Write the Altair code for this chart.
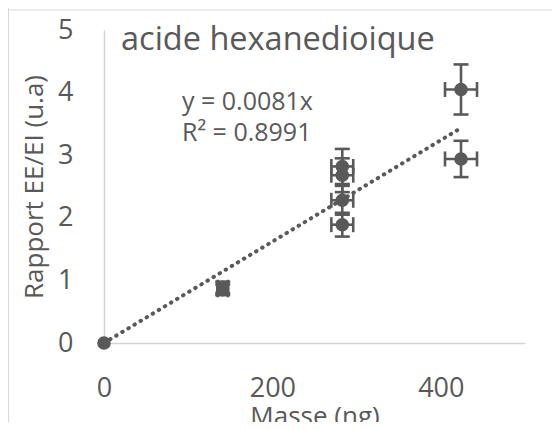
import altair as alt
import pandas as pd

# Data
mass = [0, 141, 141, 283, 283, 283, 283, 424, 424]
ratio = [0, 0.85, 0.89, 1.89, 2.28, 2.68, 2.82, 2.94, 4.05]
mass_err = [0, 6, 6, 13, 13, 13, 13, 19, 19]
ratio_err = [0, 0.085, 0.09, 0.19, 0.23, 0.27, 0.28, 0.29, 0.40]

trend_x = [0, 424]
trend_y = [0, 0.0081 * 424]

x_ticks = [0, 200, 400]
y_ticks = [0, 1, 2, 3, 4, 5]

title_text = "acide hexanedioique"
eq_text = "y = 0.0081x"
r2_text = "R² = 0.8991"

GREY = "#595959"
LIGHT = "#d4d4d4"

df = pd.DataFrame({"m": mass, "r": ratio, "me": mass_err, "re": ratio_err})
df["mlo"] = df["m"] - df["me"]
df["mhi"] = df["m"] + df["me"]
df["rlo"] = df["r"] - df["re"]
df["rhi"] = df["r"] + df["re"]
df_err = df[df["re"] > 0]

trend = pd.DataFrame({"m": trend_x, "r": trend_y})

xs = alt.Scale(domain=[0, 500], nice=False, zero=False)
ys = alt.Scale(domain=[0, 5], nice=False, zero=False)

x_axis = alt.Axis(values=x_ticks, grid=False, ticks=False, tickSize=0,
                  labelFontSize=27, labelPadding=32, labelColor=GREY,
                  domainColor=LIGHT, domainWidth=1.5, labelFlush=False,
                  title="Masse (ng)", titleFontSize=26, titleFontWeight="normal",
                  titleColor=GREY, titleX=210.5, titleY=60, titleBaseline="top")
y_axis = alt.Axis(values=y_ticks, grid=False, ticks=False, tickSize=0,
                  labelFontSize=27, labelPadding=31, labelColor=GREY,
                  domainColor=LIGHT, domainWidth=1.5,
                  title="Rapport EE/EI (u.a)", titleFontSize=26, titleFontWeight="normal",
                  titleColor=GREY, titleX=-62, titleY=156.5, titleBaseline="alphabetic",
                  titleAngle=-90)

def X(field):
    return alt.X(field, type="quantitative", scale=xs, axis=x_axis)

def Y(field):
    return alt.Y(field, type="quantitative", scale=ys, axis=y_axis)

base = alt.Chart(df)
berr = alt.Chart(df_err)

trend_line = alt.Chart(trend).mark_line(
    color=GREY, strokeWidth=4, strokeDash=[0.5, 6.6], strokeCap="round"
).encode(x=X("m"), y=Y("r"))

vbar = berr.mark_rule(color=GREY, strokeWidth=2.6).encode(x=X("m"), y=Y("rlo"), y2="rhi")
hbar = berr.mark_rule(color=GREY, strokeWidth=2.6).encode(x=X("mlo"), x2="mhi", y=Y("r"))
cap_lo = berr.mark_tick(orient="horizontal", size=15, thickness=2.6, color=GREY, opacity=1).encode(x=X("m"), y=Y("rlo"))
cap_hi = berr.mark_tick(orient="horizontal", size=15, thickness=2.6, color=GREY, opacity=1).encode(x=X("m"), y=Y("rhi"))
cap_l = berr.mark_tick(orient="vertical", size=15, thickness=2.6, color=GREY, opacity=1).encode(x=X("mlo"), y=Y("r"))
cap_r = berr.mark_tick(orient="vertical", size=15, thickness=2.6, color=GREY, opacity=1).encode(x=X("mhi"), y=Y("r"))

points = base.mark_circle(size=185, color=GREY, opacity=1).encode(x=X("m"), y=Y("r"))

txt = pd.DataFrame({"t": [title_text]})
title_mark = alt.Chart(txt).mark_text(
    align="left", baseline="alphabetic", fontSize=32.5, color=GREY
).encode(text="t:N", x=alt.value(17), y=alt.value(20))

eq1 = alt.Chart(pd.DataFrame({"t": [eq_text]})).mark_text(
    align="left", baseline="alphabetic", fontSize=25, color=GREY
).encode(text="t:N", x=alt.value(78), y=alt.value(80))
eq2 = alt.Chart(pd.DataFrame({"t": [r2_text]})).mark_text(
    align="left", baseline="alphabetic", fontSize=25, color=GREY
).encode(text="t:N", x=alt.value(78), y=alt.value(111))

border_left = alt.Chart(txt).mark_rule(color="#d9d9d9", strokeWidth=1.2).encode(
    x=alt.value(-95.5), y=alt.value(-22), y2=alt.value(400))
border_top = alt.Chart(txt).mark_rule(color="#d9d9d9", strokeWidth=1.2).encode(
    x=alt.value(-96), x2=alt.value(460), y=alt.value(-20))

chart = alt.layer(
    border_left, border_top, trend_line, vbar, hbar, cap_lo, cap_hi, cap_l, cap_r,
    points, title_mark, eq1, eq2
).properties(
    width=421, height=313,
    autosize=alt.AutoSizeParams(type="none"),
    padding={"left": 96, "top": 22, "right": 27, "bottom": 79},
).configure(font="Open Sans").configure_view(strokeWidth=0)

chart.save("out.html", embed_options={"renderer": "svg", "actions": False})
